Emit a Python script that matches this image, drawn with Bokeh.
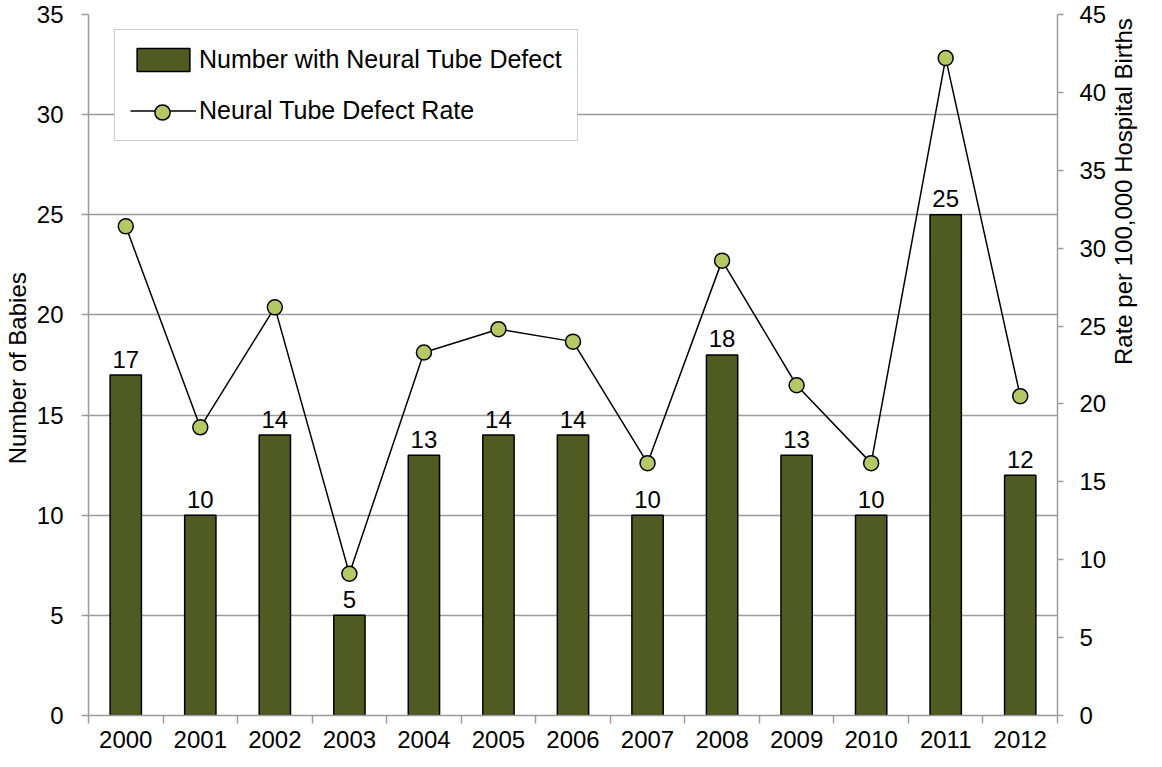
import math
from bokeh.plotting import figure
from bokeh.models import (Range1d, LinearAxis, FixedTicker, Legend, LegendItem,
                          ColumnDataSource)
from bokeh.core.properties import value
from bokeh.embed import file_html
from bokeh.resources import INLINE

# ---- data ----
years = [2000, 2001, 2002, 2003, 2004, 2005, 2006, 2007, 2008, 2009, 2010, 2011, 2012]
counts = [17, 10, 14, 5, 13, 14, 14, 10, 18, 13, 10, 25, 12]
rates = [31.4, 18.5, 26.2, 9.1, 23.3, 24.8, 24.0, 16.2, 29.2, 21.2, 16.2, 42.2, 20.5]
count_ticks = [0, 5, 10, 15, 20, 25, 30, 35]
rate_ticks = [0, 5, 10, 15, 20, 25, 30, 35, 40, 45]
count_title = "Number of  Babies"
rate_title = "Rate per 100,000  Hospital Births"
bar_legend = "Number with Neural Tube Defect"
rate_legend = "Neural Tube Defect Rate"

# ---- style ----
FONT = "Liberation Sans"
GRID = "#9b9b9b"
BAR = "#4f5b21"
MARK = "#b4c965"
FW, FH = 969, 701

bounds = [years[0] - 0.5] + [y + 0.5 for y in years]

p = figure(frame_width=FW, frame_height=FH,
           x_range=Range1d(bounds[0], bounds[-1]),
           y_range=Range1d(count_ticks[0], count_ticks[-1]),
           output_backend="svg", toolbar_location=None,
           min_border_left=85, min_border_right=92,
           min_border_top=14, min_border_bottom=36)
p.extra_y_ranges = {"rate": Range1d(rate_ticks[0], rate_ticks[-1])}
p.outline_line_color = None
p.background_fill_color = "white"
p.border_fill_color = "white"

src = ColumnDataSource(dict(year=years, count=counts, rate=rates,
                            label=[str(c) for c in counts]))

bars = p.vbar(x="year", top="count", width=0.42, source=src,
              fill_color=BAR, line_color="black", line_width=1.5)
line = p.line(x="year", y="rate", source=src, y_range_name="rate",
              line_color="black", line_width=1.5)
pts = p.scatter(x="year", y="rate", source=src, y_range_name="rate", size=15,
                fill_color=MARK, line_color="black", line_width=1.5)
p.text(x="year", y="count", text="label", source=src,
       text_font=value(FONT), text_font_size="24px", text_color="black",
       text_align="center", text_baseline="alphabetic", y_offset=-16)

# ---- axes ----
xa = p.xaxis[0]
xa.ticker = FixedTicker(ticks=years, minor_ticks=bounds)
xa.major_tick_line_color = None
xa.major_tick_out = 0
xa.minor_tick_line_color = GRID
xa.minor_tick_line_width = 1.5
xa.minor_tick_out = 8
xa.minor_tick_in = 0
xa.major_label_standoff = 7

yl = p.yaxis[0]
yl.ticker = FixedTicker(ticks=count_ticks)
yl.axis_label = count_title
yl.major_tick_out = 7
yl.major_label_standoff = 18
yl.axis_label_standoff = 3

yr = LinearAxis(y_range_name="rate", ticker=FixedTicker(ticks=rate_ticks),
                axis_label=rate_title)
yr.major_tick_out = 6
yr.major_label_standoff = 16
yr.axis_label_standoff = 14
try:
    yr.axis_label_orientation = math.pi / 2
except Exception:
    pass
p.add_layout(yr, "right")

for ax in (xa, yl, yr):
    ax.major_label_text_font = FONT
    ax.major_label_text_font_size = "24px"
    ax.major_label_text_color = "black"
    ax.axis_label_text_font = FONT
    ax.axis_label_text_font_size = "24px"
    ax.axis_label_text_font_style = "normal"
    ax.axis_label_text_color = "black"
    ax.major_tick_in = 0
    ax.axis_line_color = GRID
    ax.axis_line_width = 1.5
    if ax is not xa:
        ax.minor_tick_line_color = None
        ax.major_tick_line_color = GRID
        ax.major_tick_line_width = 1.5

p.xgrid.visible = False
p.ygrid.ticker = FixedTicker(ticks=count_ticks)
p.ygrid.grid_line_color = GRID
p.ygrid.grid_line_width = 1.5

# ---- legend ----
PAD, ROW1, SP, LEFT, BOTTOM1 = 15, 29, 22, 26, 574
leg1 = Legend(items=[LegendItem(label=bar_legend, renderers=[bars]),
                     LegendItem(label=rate_legend, renderers=[line])],
              location=(LEFT, BOTTOM1), margin=0, padding=PAD, spacing=SP,
              glyph_width=66, glyph_height=ROW1, label_height=ROW1,
              label_standoff=3, label_text_font=FONT, label_text_font_size="25px",
              label_text_color="black", border_line_color=GRID,
              border_line_width=1.5, background_fill_color="white",
              background_fill_alpha=1.0)
ROW2 = 38
row2_center = BOTTOM1 + PAD + ROW1 / 2
leg2 = Legend(items=[LegendItem(label="", renderers=[pts])],
              location=(LEFT + PAD, row2_center - ROW2 / 2), margin=0,
              padding=0, glyph_width=66, glyph_height=ROW2, label_height=ROW2,
              label_standoff=0, label_text_font=FONT, label_text_font_size="25px",
              label_text_alpha=0.0, border_line_color=None,
              background_fill_alpha=0.0)
p.add_layout(leg1, "center")
p.add_layout(leg2, "center")

open("out.html", "w").write(file_html(p, INLINE))
